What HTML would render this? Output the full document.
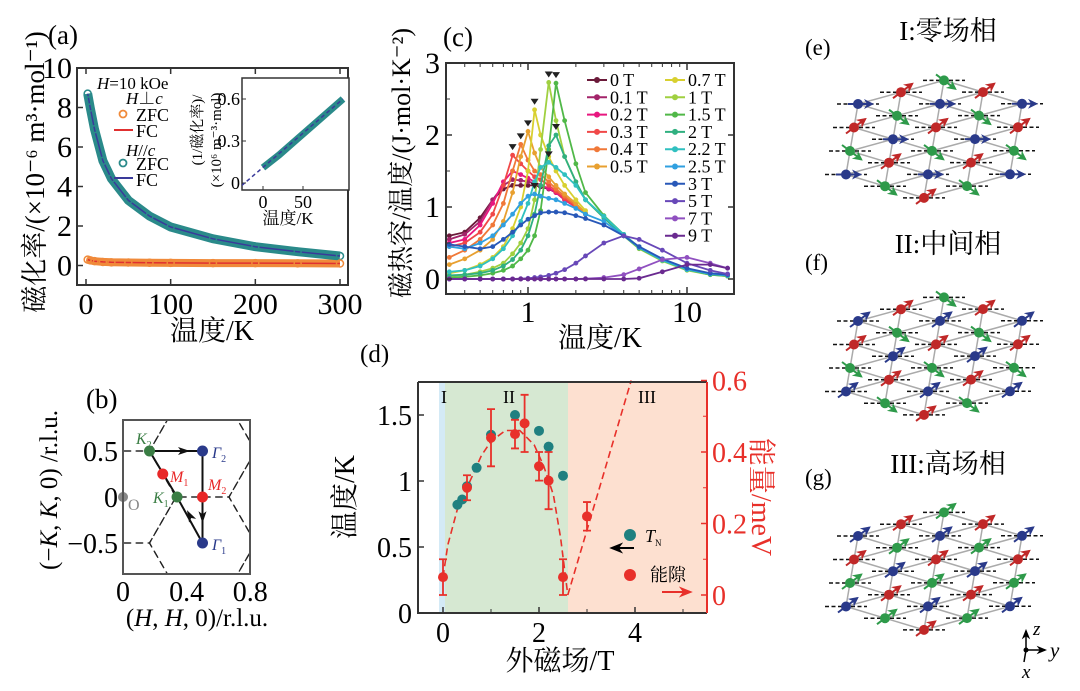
<!DOCTYPE html>
<html><head><meta charset="utf-8">
<style>
html,body{margin:0;padding:0;background:#fff;}
svg{display:block;font-family:"Liberation Serif","Noto Serif CJK SC",serif;}
</style></head>
<body>
<svg id="fig" width="1080" height="691" viewBox="0 0 1080 691" xmlns="http://www.w3.org/2000/svg">
<defs>
<marker id="ah" viewBox="0 0 10 10" refX="8" refY="5" markerWidth="5" markerHeight="5" orient="auto"><path d="M0,0 L10,5 L0,10 L3,5 z" fill="context-stroke"/></marker>
<marker id="ahk" viewBox="0 0 10 10" refX="8" refY="5" markerWidth="7" markerHeight="7" orient="auto"><path d="M0,1 L10,5 L0,9 L3,5 z" fill="#000"/></marker>
<marker id="ahr" viewBox="0 0 10 10" refX="8" refY="5" markerWidth="7" markerHeight="7" orient="auto"><path d="M0,1 L10,5 L0,9 L3,5 z" fill="#e8302a"/></marker>
<clipPath id="clipA"><rect x="77" y="68" width="271" height="217"/></clipPath>
<clipPath id="clipIn"><rect x="242" y="78" width="107" height="112"/></clipPath>
<clipPath id="clipB"><rect x="123" y="420" width="127" height="154"/></clipPath>
<clipPath id="clipC"><rect x="446" y="63" width="288" height="231"/></clipPath>
</defs>
</svg>
<script>
// ---------- data: panel (a)
const aTemps = [2,5,10,20,30,50,75,100,150,200,250,300];
const aParallel = [8.7,8.0,6.9,5.3,4.4,3.3,2.5,1.95,1.35,0.95,0.7,0.48];
const aPerp = [0.3,0.26,0.22,0.18,0.16,0.15,0.14,0.13,0.12,0.12,0.11,0.1];
const aXTicks = [0,100,200,300];
const aYTicks = [0,2,4,6,8,10];
const inTemps = [0,20,40,60,80,100];
const inInv = [0.11,0.2,0.3,0.4,0.5,0.6];
const inXTicks = [0,50];
const inYTicks = [0,0.3,0.6];
// ---------- data: panel (c)
const cTemps = [0.32,0.4,0.5,0.6,0.7,0.8,0.9,1.0,1.1,1.2,1.35,1.5,1.7,2,2.3,3,4,5,7,10,14,18];
const cFields = ["0 T","0.1 T","0.2 T","0.3 T","0.4 T","0.5 T","0.7 T","1 T","1.5 T","2 T","2.2 T","2.5 T","3 T","5 T","7 T","9 T"];
const cColors = ["#6b1a3a","#a3246a","#e8177f","#f04848","#f07838","#e8a030","#d8d030","#a0d040","#50b848","#30b080","#30c0c0","#30a0e0","#2858b8","#6848b8","#9050c0","#6a2a90"];
const c0 = [0.6,0.65,0.85,1.1,1.25,1.3,1.3,1.3,1.3,1.28,1.25,1.2,1.1,1.0,0.9];
const c01 = [0.55,0.62,0.8,1.1,1.3,1.38,1.37,1.35,1.33,1.3,1.25,1.2,1.1,1.0,0.9];
const c02 = [0.5,0.55,0.75,1.05,1.35,1.5,1.45,1.4,1.35,1.3,1.26,1.2,1.1,1.0,0.9];
const c03 = [0.45,0.5,0.65,0.9,1.3,1.72,1.6,1.5,1.42,1.38,1.3,1.22,1.12,1.0,0.9];
const c04 = [0.3,0.4,0.55,0.75,1.05,1.5,1.87,1.65,1.5,1.45,1.35,1.25,1.15,1.02,0.9];
const c05 = [0.2,0.28,0.4,0.55,0.8,1.2,1.7,2.05,1.75,1.55,1.42,1.3,1.18,1.05,0.92];
const c07 = [0.08,0.12,0.2,0.3,0.45,0.7,1.0,1.5,2.35,2.0,1.7,1.5,1.3,1.1,0.95];
const c1 = [0.04,0.06,0.1,0.15,0.22,0.35,0.5,0.7,1.1,1.8,2.73,2.2,1.7,1.35,1.1,0.85,0.6,0.42,0.25,0.12,0.06,0.04];
const c15 = [0.02,0.03,0.05,0.08,0.12,0.18,0.28,0.4,0.6,0.95,1.8,2.72,2.2,1.6,1.2,0.88,0.62,0.44,0.26,0.13,0.06,0.04];
const c2 = [0.05,0.06,0.08,0.12,0.18,0.27,0.4,0.6,0.9,1.3,1.85,2.0,1.7,1.35,1.1,0.85,0.6,0.43,0.26,0.13,0.07,0.05];
const c22 = [0.1,0.12,0.18,0.28,0.42,0.6,0.8,1.05,1.35,1.55,1.62,1.55,1.45,1.3,1.1,0.87,0.62,0.44,0.26,0.13,0.07,0.05];
const c25 = [0.45,0.42,0.5,0.6,0.75,0.9,1.05,1.15,1.18,1.15,1.12,1.1,1.05,0.98,0.9,0.8,0.6,0.44,0.27,0.14,0.07,0.05];
const c3 = [0.48,0.45,0.42,0.45,0.55,0.65,0.75,0.83,0.88,0.92,0.93,0.93,0.92,0.88,0.84,0.75,0.6,0.45,0.28,0.15,0.08,0.06];
const c5 = [0,0,0,0,0,0,0.005,0.01,0.02,0.03,0.05,0.08,0.13,0.22,0.32,0.5,0.6,0.55,0.4,0.22,0.12,0.07];
const c7 = [0,0,0,0,0,0,0,0,0,0,0,0,0,0,0.005,0.02,0.06,0.14,0.27,0.3,0.22,0.15];
const c9 = [0,0,0,0,0,0,0,0,0,0,0,0,0,0,0,0,0,0.01,0.1,0.2,0.2,0.15];
const cSeries = [c0,c01,c02,c03,c04,c05,c07,c1,c15,c2,c22,c25,c3,c5,c7,c9];
const cPeakMarked = [false,false,false,true,true,true,true,true,true,true,true,true,false,false,false,false];
const cYTicks = [0,1,2,3];
const cXTicks = [1,10];
// ---------- data: panel (d)
const dTnField = [0.3,0.4,0.5,0.7,1,1.5,2,2.2,2.5];
const dTn = [0.82,0.86,0.96,1.1,1.35,1.5,1.38,1.26,1.04];
const dGapField = [0,0.5,1,1.5,1.7,2,2.2,2.5,3];
const dGap = [0.05,0.3,0.44,0.45,0.48,0.36,0.32,0.05,0.22];
const dGapErr = [0.05,0.035,0.08,0.04,0.08,0.04,0.08,0.05,0.04];
const dDomeField = [0,0.1,0.3,0.5,0.8,1,1.3,1.6,1.9,2.1,2.3,2.45,2.6];
const dDomeGap = [0.05,0.14,0.24,0.3,0.39,0.43,0.46,0.46,0.42,0.36,0.28,0.16,0];
const dLineField = [2.6,3.92];
const dLineGap = [0,0.6];
const dXTicks = [0,2,4];
const dYTicks = [0,0.5,1,1.5];
const dY2Ticks = [0,0.2,0.4,0.6];
// ---------- data: panel (b)
const bPoints = [["K2",1/6,0.5,"#3a7d44"],["Γ2",0.5,0.5,"#2a3a8a"],["M1",0.25,0.25,"#e82828"],["K1",0.34,0,"#3a7d44"],["M2",0.5,0,"#e82828"],["Γ1",0.5,-0.5,"#2a3a8a"]];
const bXTicks = [0,0.4,0.8];
const bYTicks = [-0.5,0,0.5];

const NS="http://www.w3.org/2000/svg";
const svg=document.getElementById('fig');
function el(tag,attrs,parent){const e=document.createElementNS(NS,tag);for(const k in attrs)e.setAttribute(k,attrs[k]);(parent||svg).appendChild(e);return e;}
function txt(s,x,y,size,attrs,parent){const t=el('text',Object.assign({x:x,y:y,'font-size':size},attrs||{}),parent);t.textContent=s;return t;}
function pathD(pts){return pts.map((p,i)=>(i?'L':'M')+p[0].toFixed(1)+','+p[1].toFixed(1)).join(' ');}

// ================= Panel (a)
const ax = v=>86+v*(340-86)/300;
const ay = v=>265.5-v*19.75;
{
const g=el('g',{});


let t=txt('(a)',48,44,27,{},g);

const box=el('rect',{x:77,y:68,width:271,height:217,fill:'none',stroke:'#333','stroke-width':2},g);

aXTicks.forEach(v=>{el('line',{x1:ax(v),y1:285,x2:ax(v),y2:279,stroke:'#333','stroke-width':1.5},g);el('line',{x1:ax(v),y1:68,x2:ax(v),y2:74,stroke:'#333','stroke-width':1.5},g);
 const l=txt(String(v),ax(v),314,30,{'text-anchor':'middle'},g);});
aYTicks.forEach(v=>{el('line',{x1:77,y1:ay(v),x2:83,y2:ay(v),stroke:'#333','stroke-width':1.5},g);
 const l=txt(String(v),72,ay(v)+10,30,{'text-anchor':'end'},g);});
t=txt('温度/K',212,340,28,{'text-anchor':'middle'},g);
t=txt('磁化率/(×10⁻⁶ m³·mol⁻¹)',0,0,27,{'text-anchor':'middle',transform:'translate(44,172) rotate(-90)'},g);

const cg=el('g',{'clip-path':'url(#clipA)'},g);
const pPar=aTemps.map((T,i)=>[ax(T),ay(aParallel[i])]);
const pPerp=aTemps.map((T,i)=>[ax(T),ay(aPerp[i])]);
let s=el('path',{d:pathD(pPerp),fill:'none',stroke:'#f08a3a','stroke-width':8},cg);
s=el('path',{d:pathD(pPerp),fill:'none',stroke:'#e03030','stroke-width':1.5},cg);
s=el('path',{d:pathD(pPar),fill:'none',stroke:'#2a8a8a','stroke-width':9},cg);
s=el('path',{d:pathD(pPar),fill:'none',stroke:'#3a3a9a','stroke-width':1.5},cg);
pPar.forEach(p=>{const c=el('circle',{cx:p[0],cy:p[1],r:3.5,fill:'none',stroke:'#2a8a8a','stroke-width':1.5},cg);});
pPerp.forEach(p=>{const c=el('circle',{cx:p[0],cy:p[1],r:3.5,fill:'none',stroke:'#f08a3a','stroke-width':1.5},cg);});
// legend
const lg=el('g',{},g);
t=el('text',{x:97,y:89,'font-size':17},lg);t.innerHTML='<tspan font-style="italic">H</tspan>=10 kOe';
t=el('text',{x:126,y:104,'font-size':17},lg);t.innerHTML='<tspan font-style="italic">H</tspan>⊥<tspan font-style="italic">c</tspan>';
el('circle',{cx:123,cy:114,r:3.5,fill:'none',stroke:'#f08a3a','stroke-width':1.8},lg);txt('ZFC',136,121,18,{},lg);
el('line',{x1:114,y1:130,x2:133,y2:130,stroke:'#e03030','stroke-width':2},lg);txt('FC',136,137,18,{},lg);
t=el('text',{x:126,y:156,'font-size':17},lg);t.innerHTML='<tspan font-style="italic">H</tspan>//<tspan font-style="italic">c</tspan>';
el('circle',{cx:123,cy:163,r:3.5,fill:'none',stroke:'#2a8a8a','stroke-width':1.8},lg);txt('ZFC',136,170,18,{},lg);
el('line',{x1:114,y1:178,x2:133,y2:178,stroke:'#3a3a9a','stroke-width':2},lg);txt('FC',136,186,18,{},lg);
// inset
const ix=v=>263+v*0.8, iy=v=>183-v*140;
const ig=el('g',{},g);
el('rect',{x:242,y:78,width:107,height:112,fill:'#fff',stroke:'#333','stroke-width':1.5},ig);
inXTicks.forEach(v=>{el('line',{x1:ix(v),y1:190,x2:ix(v),y2:186,stroke:'#333'},ig);txt(String(v),ix(v),208,18,{'text-anchor':'middle'},ig);});
inYTicks.forEach(v=>{el('line',{x1:242,y1:iy(v),x2:246,y2:iy(v),stroke:'#333'},ig);txt(String(v),240,iy(v)+6,18,{'text-anchor':'end'},ig);});
txt('温度/K',288,224,17,{'text-anchor':'middle'},ig);
txt('(1/磁化率)/',0,0,15,{'text-anchor':'middle',transform:'translate(202,130) rotate(-90)'},ig);
txt('(×10⁶ m⁻³·mol)',0,0,15,{'text-anchor':'middle',transform:'translate(221,140) rotate(-90)'},ig);
const icg=el('g',{'clip-path':'url(#clipIn)'},ig);
const pin=inTemps.map((T,i)=>[ix(T),iy(inInv[i])]);
s=el('path',{d:pathD(pin),fill:'none',stroke:'#2a8a8a','stroke-width':7},icg);
el('line',{x1:ix(-27),y1:iy(-0.02),x2:ix(inTemps[inTemps.length-1]),y2:iy(inInv[inInv.length-1]),stroke:'#3a3a9a','stroke-width':1.5,'stroke-dasharray':'4 3'},icg);
}

// ================= Panel (b)
const bx=v=>123+v*159, by=v=>497-v*92;
{
const g=el('g',{});
let t=txt('(b)',86,408,27,{},g);
const cg=el('g',{'clip-path':'url(#clipB)'},g);
const centers=[[0,0],[0.5,0.5],[0.5,-0.5],[1,0],[0,1],[0,-1],[1,1],[1,-1]];
const hv=[[1/3,0],[1/6,0.5],[-1/6,0.5],[-1/3,0],[-1/6,-0.5],[1/6,-0.5]];
centers.forEach(c=>{const pts=hv.map(h=>[bx(c[0]+h[0]),by(c[1]+h[1])]);pts.push(pts[0]);
 const p=el('path',{d:pathD(pts),fill:'none',stroke:'#222','stroke-width':1.3,'stroke-dasharray':'7 5'},cg);});
const P={};bPoints.forEach(p=>P[p[0]]=p);
const seg=(a,b2)=>{const l=el('line',{x1:bx(a[1]),y1:by(a[2]),x2:bx(b2[1]),y2:by(b2[2]),stroke:'#111','stroke-width':2},g);};
seg(P['K2'],P['Γ2']);seg(P['Γ2'],P['Γ1']);seg(P['Γ1'],P['K1']);seg(P['K1'],P['K2']);
const arr=(x,y,ang)=>{el('path',{d:'M-6,-4 L6,0 L-6,4 L-3,0 z',fill:'#111',transform:`translate(${x},${y}) rotate(${ang})`},g);};
arr((bx(1/6)+bx(0.5))/2+8,by(0.5),0);
arr(bx(0.5),by(-0.22),90);
arr(bx(0.42),by(-0.2),-118);
bPoints.forEach(p=>{const c=el('circle',{cx:bx(p[1]),cy:by(p[2]),r:5.5,fill:p[3]},g);});
el('circle',{cx:123,cy:497,r:5,fill:'#888'},g);
txt('O',128,510,16,{fill:'#888'},g);
const lab=(s,sub,x,y,col)=>{const t=el('text',{x:x,y:y,'font-size':16,fill:col,'font-style':'italic'},g);t.innerHTML=s+'<tspan font-size="10" font-style="normal" dy="4">'+sub+'</tspan>';};
lab('K','2',136,444,'#3a7d44');lab('Γ','2',212,458,'#2a3a8a');lab('M','1',170,482,'#e82828');lab('K','1',153,503,'#3a7d44');lab('M','2',208,490,'#e82828');lab('Γ','1',212,550,'#2a3a8a');
el('rect',{x:123,y:420,width:127,height:154,fill:'none',stroke:'#555','stroke-width':2},g);
bXTicks.forEach(v=>{txt(String(v),bx(v),601,28,{'text-anchor':'middle'},g);});
bYTicks.forEach(v=>{txt(v<0?'−0.5':String(v),118,by(v)+10,28,{'text-anchor':'end'},g);});
t=el('text',{x:197,y:626,'font-size':25,'text-anchor':'middle'},g);t.innerHTML='(<tspan font-style="italic">H</tspan>, <tspan font-style="italic">H</tspan>, 0)/r.l.u.';

t=el('text',{'font-size':25,'text-anchor':'middle',transform:'translate(57,490) rotate(-90)'},g);t.innerHTML='(−<tspan font-style="italic">K</tspan>, <tspan font-style="italic">K</tspan>, 0) /r.l.u.';

}

// ================= Panel (c)
const cx=v=>528+Math.log10(v)*159, cy=v=>279-v*72;
{
const g=el('g',{});
let t=txt('(c)',443,46,27,{},g);
const cg=el('g',{'clip-path':'url(#clipC)'},g);
cSeries.forEach((arr,k)=>{
 const pts=arr.map((v,i)=>[cx(cTemps[i]),cy(v)]);
 const s=el('path',{d:pathD(pts),fill:'none',stroke:cColors[k],'stroke-width':1.8},cg);
 
 
 pts.forEach(p=>{const c=el('circle',{cx:p[0],cy:p[1],r:2.4,fill:cColors[k]},cg);});
 if(cPeakMarked[k]){let mi=0;arr.forEach((v,i)=>{if(v>arr[mi])mi=i;});const px=cx(cTemps[mi]),py=cy(arr[mi])-6;
  const m=el('path',{d:`M${px-4},${py-5} L${px+4},${py-5} L${px},${py+1} z`,fill:'#222'},cg);}
});
el('rect',{x:446,y:63,width:288,height:231,fill:'none',stroke:'#333','stroke-width':2},g);
[0.4,0.5,0.6,0.7,0.8,0.9,2,3,4,5,6,7,8,9,20].forEach(v=>{const x=cx(v);if(x>446&&x<734){el('line',{x1:x,y1:294,x2:x,y2:290,stroke:'#333'},g);el('line',{x1:x,y1:63,x2:x,y2:67,stroke:'#333'},g);}});
cXTicks.forEach(v=>{el('line',{x1:cx(v),y1:294,x2:cx(v),y2:287,stroke:'#333','stroke-width':1.5},g);el('line',{x1:cx(v),y1:63,x2:cx(v),y2:70,stroke:'#333','stroke-width':1.5},g);
 const l=txt(String(v),cx(v),322,30,{'text-anchor':'middle'},g);});
cYTicks.forEach(v=>{el('line',{x1:446,y1:cy(v),x2:452,y2:cy(v),stroke:'#333','stroke-width':1.5},g);el('line',{x1:734,y1:cy(v),x2:728,y2:cy(v),stroke:'#333','stroke-width':1.5},g);
 const l=txt(String(v),440,cy(v)+10,30,{'text-anchor':'end'},g);});
[0.5,1.5,2.5].forEach(v=>{el('line',{x1:446,y1:cy(v),x2:450,y2:cy(v),stroke:'#333'},g);});
t=txt('温度/K',600,347,28,{'text-anchor':'middle'},g);
t=txt('磁热容/温度/(J·mol·K⁻²)',0,0,26,{'text-anchor':'middle',transform:'translate(410,163) rotate(-90)'},g);
const lg=el('g',{},g);
cFields.forEach((f,k)=>{const col=k<6?0:1;const row=k<6?k:k-6;const x0=col?665:587;const y0=80+row*17.3;
 el('line',{x1:x0,y1:y0,x2:x0+20,y2:y0,stroke:cColors[k],'stroke-width':2},lg);el('circle',{cx:x0+10,cy:y0,r:3,fill:cColors[k]},lg);
 const e=txt(f,x0+23,y0+6,18,{},lg);});
}

// ================= Panel (d)
const dx=v=>443+v*48, dy=v=>613-v*132, dy2=v=>595-v*357.5;
{
const g=el('g',{});
let t=txt('(d)',360,362,25,{},g);
let r=el('rect',{x:439,y:382,width:6,height:231,fill:'#d4eaf6'},g);
r=el('rect',{x:445,y:382,width:123,height:231,fill:'#d6e8d2'},g);
r=el('rect',{x:568,y:382,width:139,height:231,fill:'#fde0d0'},g);
txt('I',441,403,18,{},g);txt('II',503,403,18,{},g);txt('III',638,403,18,{},g);
let s=el('path',{d:pathD(dDomeField.map((f,i)=>[dx(f),dy2(dDomeGap[i])])),fill:'none',stroke:'#e8302a','stroke-width':1.6,'stroke-dasharray':'7 4'},g);

s=el('path',{d:pathD(dLineField.map((f,i)=>[dx(f),dy2(dLineGap[i])])),fill:'none',stroke:'#e8302a','stroke-width':1.6,'stroke-dasharray':'7 4'},g);

dTnField.forEach((f,i)=>{const c=el('circle',{cx:dx(f),cy:dy(dTn[i]),r:5,fill:'#1f8080'},g);});
dGapField.forEach((f,i)=>{const x=dx(f),y1=dy2(dGap[i]+dGapErr[i]),y2=dy2(dGap[i]-dGapErr[i]);
 const e=el('path',{d:`M${x},${y1} L${x},${y2} M${x-4},${y1} L${x+4},${y1} M${x-4},${y2} L${x+4},${y2}`,stroke:'#e8302a','stroke-width':1.8,fill:'none'},g);
 
 const c=el('circle',{cx:x,cy:dy2(dGap[i]),r:5,fill:'#e8302a'},g);});
el('path',{d:'M418,382 L707,382 M418,382 L418,613 L707,613',fill:'none',stroke:'#333','stroke-width':2},g);
el('line',{x1:707,y1:382,x2:707,y2:613,stroke:'#e8302a','stroke-width':2},g);
dXTicks.forEach(v=>{el('line',{x1:dx(v),y1:613,x2:dx(v),y2:607,stroke:'#333','stroke-width':1.5},g);
 const l=txt(String(v),dx(v),642,28,{'text-anchor':'middle'},g);});
[1,3,5].forEach(v=>el('line',{x1:dx(v),y1:613,x2:dx(v),y2:609,stroke:'#333'},g));
dYTicks.forEach(v=>{el('line',{x1:418,y1:dy(v),x2:424,y2:dy(v),stroke:'#333','stroke-width':1.5},g);
 const l=txt(String(v),412,dy(v)+10,28,{'text-anchor':'end'},g);});
dY2Ticks.forEach(v=>{el('line',{x1:707,y1:dy2(v),x2:701,y2:dy2(v),stroke:'#e8302a','stroke-width':1.5},g);
 const l=txt(String(v),712,dy2(v)+10,28,{fill:'#e8302a'},g);});
[0.1,0.3,0.5].forEach(v=>el('line',{x1:707,y1:dy2(v),x2:703,y2:dy2(v),stroke:'#e8302a'},g));
t=txt('外磁场/T',560,670,28,{'text-anchor':'middle'},g);
t=txt('温度/K',0,0,28,{'text-anchor':'middle',transform:'translate(354,497) rotate(-90)'},g);
t=txt('能量/meV',0,0,28,{'text-anchor':'middle',fill:'#e8302a',transform:'translate(752,497) rotate(90)'},g);
const lg=el('g',{},g);
el('circle',{cx:630,cy:535,r:6,fill:'#1f8080'},lg);
let e=el('text',{x:645,y:542,'font-size':18,'font-style':'italic'},lg);e.innerHTML='T<tspan font-size="9" font-style="normal" dy="4">N</tspan>';
el('line',{x1:634,y1:548,x2:612,y2:548,stroke:'#000','stroke-width':2,'marker-end':'url(#ahk)'},lg);
el('circle',{cx:630,cy:575,r:6,fill:'#e8302a'},lg);
txt('能隙',650,581,18,{},lg);
el('line',{x1:662,y1:592,x2:690,y2:592,stroke:'#e8302a','stroke-width':2,'marker-end':'url(#ahr)'},lg);
}

// ================= Panels (e)(f)(g) lattices
const lattices=[
 {label:'(e)',title:'I:零场相',ly:55,ty:40,ox:858,oy:104,dirs:[[1,0],[0.8,0.6],[0.8,-0.6]]},
 {label:'(f)',title:'II:中间相',ly:270,ty:253,ox:858,oy:321,dirs:[[0.8,-0.6],[0.8,0.6],[0.8,-0.6]]},
 {label:'(g)',title:'III:高场相',ly:485,ty:473,ox:858,oy:536,dirs:[[0.8,-0.6],[0.8,-0.6],[0.8,-0.6]]}
];
const atomCols=['#2a3a8a','#2e9a4a','#c02828'];
lattices.forEach((L,n)=>{
 const g=el('g',{});
 let t=txt(L.label,805,L.ly,23,{},g);
 t=txt(L.title,948,L.ty,27,{'text-anchor':'middle'},g);
 const pos=(i,j)=>[L.ox+39*i-4*j,L.oy+11.7*i+23.5*j];
 const ok=(i,j)=>i>=0&&i<=4&&j>=-2&&j<=3&&i+j>=0&&i+j<=5;
 const sites=[];for(let i=0;i<=4;i++)for(let j=-2;j<=3;j++)if(ok(i,j))sites.push([i,j]);
 sites.forEach(([i,j])=>{[[1,0],[0,1],[1,-1]].forEach(d=>{if(ok(i+d[0],j+d[1])){const a=pos(i,j),b=pos(i+d[0],j+d[1]);el('line',{x1:a[0],y1:a[1],x2:b[0],y2:b[1],stroke:'#aaa','stroke-width':1.5},g);}});});
 sites.forEach(([i,j])=>{const p=pos(i,j);el('line',{x1:p[0]-21,y1:p[1],x2:p[0]+21,y2:p[1],stroke:'#111','stroke-width':1.5,'stroke-dasharray':'4 2.5'},g);});
 sites.forEach(([i,j])=>{const p=pos(i,j);const k=((i+2*j)%3+3)%3;const d=L.dirs[k];
  const a=el('line',{x1:p[0]-d[0]*10,y1:p[1]-d[1]*10,x2:p[0]+d[0]*14,y2:p[1]+d[1]*14,stroke:atomCols[k],'stroke-width':2,'marker-end':'url(#ah)'},g);
  
  const c=el('circle',{cx:p[0],cy:p[1],r:5,fill:atomCols[k]},g);});
});
{const g=el('g',{});
el('line',{x1:1026,y1:650,x2:1026,y2:631,stroke:'#000','stroke-width':1.5,'marker-end':'url(#ahk)'},g);
el('line',{x1:1026,y1:650,x2:1045,y2:650,stroke:'#000','stroke-width':1.5,'marker-end':'url(#ahk)'},g);
el('line',{x1:1026,y1:650,x2:1024,y2:662,stroke:'#000','stroke-width':1.5},g);
el('circle',{cx:1026,cy:650,r:2.5,fill:'#000'},g);
txt('z',1033,635,19,{'font-style':'italic'},g);txt('y',1050,657,21,{'font-style':'italic'},g);txt('x',1022,678,19,{'font-style':'italic'},g);}
</script>
</body></html>
